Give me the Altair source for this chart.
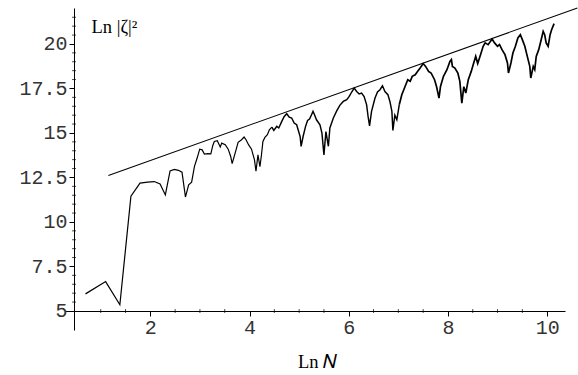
import altair as alt
import pandas as pd

# Ln N values and Ln |zeta|^2 values
ln_n = [0.693, 1.099, 1.386, 1.609, 1.792, 1.946, 2.079, 2.197, 2.303, 2.398,
        2.485, 2.565, 2.639, 2.708, 2.773, 2.833, 2.890, 2.944, 2.996, 3.045,
        3.09, 3.16, 3.22, 3.26, 3.29, 3.35, 3.41, 3.44, 3.51, 3.57,
        3.62, 3.65, 3.71, 3.77, 3.84, 3.89, 3.93, 3.98, 4.04, 4.10,
        4.13, 4.17, 4.21, 4.24, 4.27, 4.31, 4.36, 4.40, 4.45, 4.49,
        4.55, 4.59, 4.65, 4.70, 4.75, 4.80, 4.85, 4.90, 4.95, 4.98,
        5.02, 5.04, 5.08, 5.13, 5.17, 5.21, 5.25, 5.28, 5.31, 5.35,
        5.42, 5.46, 5.50, 5.54, 5.59, 5.62, 5.69, 5.76, 5.82, 5.89,
        5.96, 6.01, 6.06, 6.11, 6.16, 6.21, 6.26, 6.31, 6.36, 6.39,
        6.42, 6.46, 6.53, 6.58, 6.63, 6.68, 6.73, 6.79, 6.83, 6.87,
        6.89, 6.93, 6.97, 7.02, 7.07, 7.12, 7.19, 7.24, 7.28, 7.34,
        7.39, 7.44, 7.50, 7.55, 7.61, 7.66, 7.73, 7.77, 7.82, 7.85,
        7.91, 7.98, 8.04, 8.07, 8.09, 8.14, 8.20, 8.24, 8.28, 8.32,
        8.36, 8.41, 8.47, 8.51, 8.56, 8.60, 8.67, 8.71, 8.75, 8.81,
        8.89, 8.94, 9.00, 9.04, 9.09, 9.15, 9.20, 9.22, 9.27, 9.31,
        9.36, 9.41, 9.46, 9.50, 9.55, 9.60, 9.65, 9.67, 9.72, 9.75,
        9.78, 9.83, 9.88, 9.92, 9.95, 9.98, 10.02, 10.06, 10.09, 10.14]
ln_zeta = [5.96, 6.65, 5.35, 11.45, 12.18, 12.24, 12.27, 12.13, 11.52, 12.87,
           12.95, 12.90, 12.80, 11.40, 12.09, 12.24, 13.12, 13.59, 14.09, 14.05,
           13.81, 13.84, 13.83, 14.30, 14.52, 14.56, 14.21, 14.43, 14.34, 14.09,
           13.68, 13.28, 13.87, 14.47, 14.62, 14.77, 14.62, 14.34, 14.09, 13.49,
           12.85, 13.77, 13.10, 13.75, 14.52, 14.75, 14.90, 15.18, 15.33, 15.14,
           15.37, 15.28, 15.65, 15.93, 16.08, 15.89, 15.84, 15.56, 15.46, 15.18,
           14.80, 14.24, 14.80, 15.37, 15.70, 15.78, 16.02, 16.21, 16.02, 15.74,
           15.46, 14.99, 13.77, 15.08, 14.25, 15.28, 15.84, 16.25, 16.55, 16.77,
           16.87, 17.05, 17.30, 17.52, 17.33, 17.19, 17.24, 17.05, 16.59, 15.93,
           15.40, 16.21, 16.96, 17.30, 17.43, 17.65, 17.33, 17.15, 16.77, 16.21,
           15.14, 16.00, 15.74, 16.60, 17.15, 17.50, 17.99, 17.90, 18.18, 18.27,
           18.46, 18.65, 18.90, 18.74, 18.46, 18.37, 17.99, 17.61, 16.96, 17.61,
           18.18, 18.55, 19.02, 19.12, 18.74, 18.65, 18.37, 17.90, 16.68, 17.60,
           17.24, 17.99, 18.46, 18.84, 19.30, 18.90, 19.50, 19.87, 20.06, 19.96,
           20.28, 20.06, 19.87, 19.96, 19.68, 19.40, 18.93, 18.37, 18.93, 19.49,
           19.87, 20.34, 20.52, 20.24, 19.87, 19.30, 18.74, 18.09, 18.74, 18.56,
           19.30, 19.68, 20.24, 20.71, 20.52, 20.06, 19.87, 20.52, 20.80, 21.14]

# straight bounding line
fit_x = [1.155, 10.61]
fit_y = [12.61, 22.02]

# tick values
x_major = [2, 4, 6, 8, 10]
x_minor = [1, 1.5, 2.5, 3, 3.5, 4.5, 5, 5.5, 6.5, 7, 7.5, 8.5, 9, 9.5]
y_major = [5, 7.5, 10, 12.5, 15, 17.5, 20]
y_minor = [5.5, 6, 6.5, 7, 8, 8.5, 9, 9.5, 10.5, 11, 11.5, 12, 13, 13.5, 14,
           14.5, 15.5, 16, 16.5, 17, 18, 18.5, 19, 19.5, 20.5, 21, 21.5]

# where the axes cross (data units)
x_axis_at = 5.0
y_axis_at = 0.4614

# the dense right part of the curve is drawn heavier (as in the reference)
seg_edges = [4.45, 7.02]
rows = []
for xv, yv in zip(ln_n, ln_zeta):
    seg = "a" if xv <= seg_edges[0] else ("b" if xv <= seg_edges[1] else "c")
    rows.append({"x": xv, "y": yv, "seg": seg})
    if xv in seg_edges:
        rows.append({"x": xv, "y": yv, "seg": "b" if xv == seg_edges[0] else "c"})
curve_df = pd.DataFrame(rows)
fit_df = pd.DataFrame({"x": fit_x, "y": fit_y})
xminor_df = pd.DataFrame({"x": x_minor})
yminor_df = pd.DataFrame({"y": y_minor})

xscale = alt.Scale(domain=[0.28, 10.36], nice=False, zero=False)
yscale = alt.Scale(domain=[3.93, 22.02], nice=False, zero=False)

label_font = "Liberation Mono"
title_font = "Liberation Serif"

x_axis = alt.Axis(
    values=x_major, orient="bottom", offset=-19, tickSize=5,
    labelPadding=17, labelBaseline="alphabetic", labelFont=label_font,
    labelFontSize=20, labelColor="#333", labelFlush=False, labelOverlap=False,
    title="Ln 𝑁", titleFont=title_font, titleFontSize=18.5, titleFontWeight="normal",
    titleColor="black", titleX=252, titleY=56, titleBaseline="alphabetic",
    titleAlign="center", titleAnchor="middle")

y_axis = alt.Axis(
    values=y_major, orient="left", offset=-9, tickSize=5, format=".1~f",
    labelPadding=2, labelFont=label_font, labelFontSize=20, labelColor="#333",
    labelFlush=False, labelOverlap=False,
    title="Ln |ζ|²", titleFont=title_font, titleFontSize=18.5, titleFontWeight="normal",
    titleColor="black", titleAngle=0, titleX=17, titleY=24,
    titleBaseline="alphabetic", titleAlign="left")

curve = alt.Chart(curve_df).mark_line(color="black").encode(
    x=alt.X("x:Q", scale=xscale, axis=x_axis),
    y=alt.Y("y:Q", scale=yscale, axis=y_axis),
    strokeWidth=alt.StrokeWidth("seg:N", legend=None,
                                scale=alt.Scale(domain=["a", "b", "c"], range=[1.2, 1.7, 2.4])),
    order="x:Q",
)

fit = alt.Chart(fit_df).mark_line(color="black", strokeWidth=1.1, clip=False).encode(
    x=alt.X("x:Q", scale=xscale),
    y=alt.Y("y:Q", scale=yscale),
)

xminor = alt.Chart(xminor_df).mark_tick(
    color="black", orient="vertical", size=4, thickness=1, clip=False
).encode(
    x=alt.X("x:Q", scale=xscale),
    y=alt.datum(x_axis_at, scale=yscale),
)

yminor = alt.Chart(yminor_df).mark_tick(
    color="black", orient="horizontal", size=4, thickness=1, clip=False
).encode(
    x=alt.datum(y_axis_at, scale=xscale),
    y=alt.Y("y:Q", scale=yscale),
)

chart = alt.layer(curve, fit, xminor, yminor).properties(
    width=500, height=322,
    autosize=alt.AutoSizeParams(type="none"),
    padding={"left": 65, "top": 8, "right": 13, "bottom": 45},
).configure_view(stroke=None).configure_axis(
    grid=False, domainColor="black", tickColor="black", domainWidth=1, tickWidth=1
)

chart.save("out.html", embed_options={"renderer": "svg", "actions": False})
